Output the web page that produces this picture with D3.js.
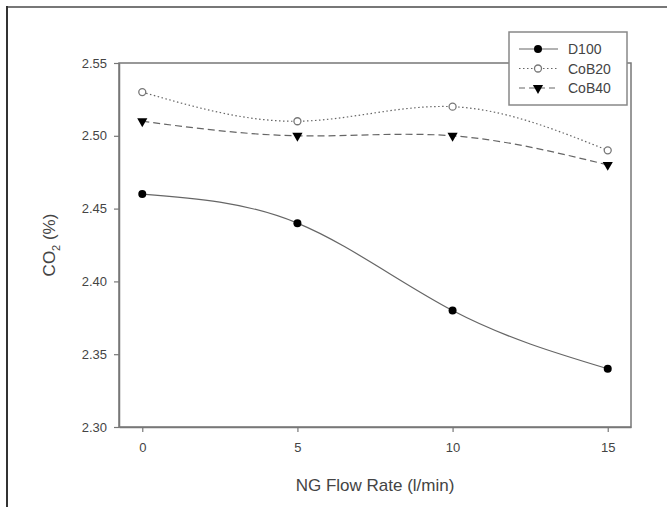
<!DOCTYPE html>
<html><head><meta charset="utf-8">
<script src="https://cdn.jsdelivr.net/npm/d3@7"></script>
<style>body{margin:0;background:#fff}svg{display:block}text{font-family:Arial,"Liberation Sans",sans-serif;fill:#444}</style>
</head><body><svg id="c" width="667" height="507"></svg>
<script>
const xValues = [0, 5, 10, 15];
const d100 = [2.46, 2.44, 2.38, 2.34];
const cob20 = [2.53, 2.51, 2.52, 2.49];
const cob40 = [2.51, 2.50, 2.50, 2.48];
const seriesNames = ["D100", "CoB20", "CoB40"];
const yTicks = [2.30, 2.35, 2.40, 2.45, 2.50, 2.55];
const xTicks = [0, 5, 10, 15];

const svg = d3.select("#c");
// outer frame
svg.append("line").attr("x1",6).attr("x2",667).attr("y1",7).attr("y2",7).attr("stroke","#777").attr("stroke-width",2);
svg.append("line").attr("x1",7).attr("x2",7).attr("y1",6).attr("y2",507).attr("stroke","#333").attr("stroke-width",2);

const L=119, R=631, T=63, B=427;
const x = d3.scaleLinear().domain([-0.75, 15.75]).range([L, R]);
const y = d3.scaleLinear().domain([2.30, 2.55]).range([B, T]);

// plot frame
svg.append("rect").attr("x",L).attr("y",T).attr("width",R-L).attr("height",B-T)
  .attr("fill","none").attr("stroke","#777").attr("stroke-width",1.5);

const yAxis = d3.axisLeft(y).tickValues(yTicks).tickFormat(d3.format(".2f")).tickSize(5).tickSizeOuter(0).tickPadding(7);
const gy = svg.append("g").attr("transform",`translate(${L},0)`).call(yAxis);
const xAxis = d3.axisBottom(x).tickValues(xTicks).tickFormat(d3.format("d")).tickSize(5).tickSizeOuter(0).tickPadding(11);
const gx = svg.append("g").attr("transform",`translate(0,${B})`).call(xAxis);
[gy,gx].forEach(g=>{
  g.select(".domain").attr("stroke","#777").attr("stroke-width",1.5);
  g.selectAll(".tick line").attr("stroke","#777").attr("stroke-width",1.2);
  g.selectAll(".tick text").attr("font-size",13).attr("fill","#444").style("font-family","Arial, 'Liberation Sans', sans-serif");
});

const line = d3.line().x((d,i)=>x(xValues[i])).y(d=>y(d)).curve(d3.curveNatural);
const styles = [
  {data:d100, dash:null, marker:"fill"},
  {data:cob20, dash:"1.5,2.5", marker:"open"},
  {data:cob40, dash:"7,4", marker:"tri"}
];
const tri = d3.symbol().type(d3.symbolTriangle).size(45);
function drawMarker(g, type, cx, cy){
  if(type==="fill") g.append("circle").attr("cx",cx).attr("cy",cy).attr("r",4).attr("fill","#000");
  else if(type==="open") g.append("circle").attr("cx",cx).attr("cy",cy).attr("r",3.5).attr("fill","#fff").attr("stroke","#777").attr("stroke-width",1.3);
  else g.append("path").attr("d",tri).attr("transform",`translate(${cx},${cy}) rotate(180)`).attr("fill","#000");
}
styles.forEach(s=>{
  svg.append("path").datum(s.data).attr("d",line).attr("fill","none")
    .attr("stroke","#666").attr("stroke-width",1.2).attr("stroke-dasharray",s.dash);
  const g = svg.append("g");
  s.data.forEach((v,i)=>drawMarker(g, s.marker, x(xValues[i]), y(v)));
});

// legend
const lg = svg.append("g");
lg.append("rect").attr("x",509).attr("y",32).attr("width",118).attr("height",73)
  .attr("fill","#fff").attr("stroke","#888").attr("stroke-width",1.5);
seriesNames.forEach((n,i)=>{
  const yy = 49 + i*19.5;
  lg.append("line").attr("x1",519).attr("x2",558).attr("y1",yy).attr("y2",yy)
    .attr("stroke","#666").attr("stroke-width",1.2).attr("stroke-dasharray",styles[i].dash ? (i===1?"1.5,2.5":"6,4") : null);
  drawMarker(lg, styles[i].marker, 538, yy);
  lg.append("text").attr("x",568).attr("y",yy+5).attr("font-size",14).text(n);
});

// axis titles
svg.append("text").attr("x",375).attr("y",491).attr("text-anchor","middle").attr("font-size",17)
  .text("NG Flow Rate (l/min)");
const yt = svg.append("text").attr("transform","translate(55,245) rotate(-90)").attr("text-anchor","middle").attr("font-size",17);
yt.append("tspan").text("CO");
yt.append("tspan").attr("font-size",11).attr("dy",5).text("2");
yt.append("tspan").attr("dy",-5).text(" (%)");
</script></body></html>
